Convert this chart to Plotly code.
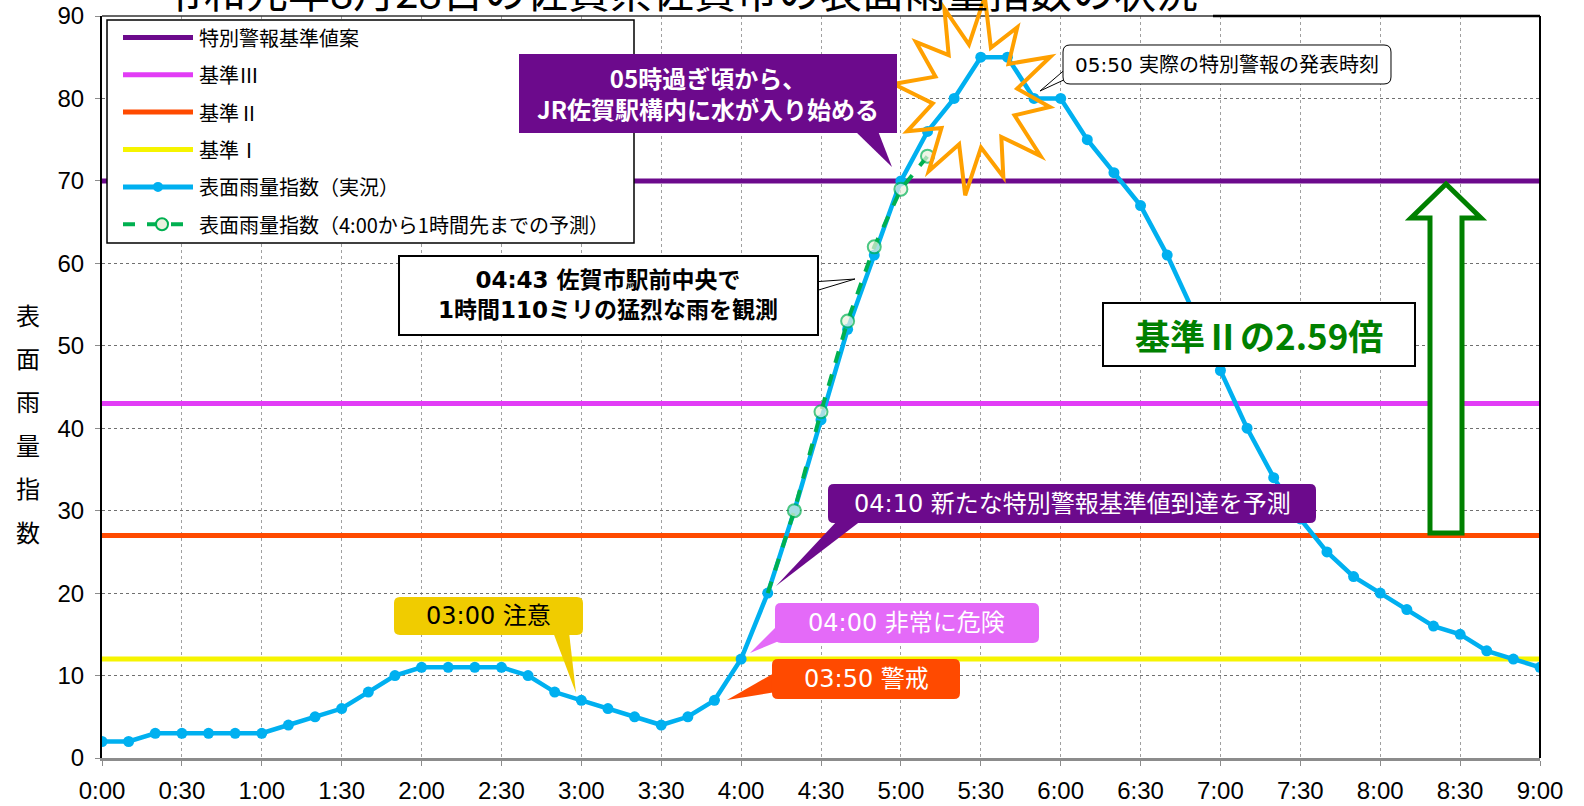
import math
import plotly.graph_objects as go

# ---- data -------------------------------------------------------------
times = ["0:00", "0:10", "0:20", "0:30", "0:40", "0:50",
         "1:00", "1:10", "1:20", "1:30", "1:40", "1:50",
         "2:00", "2:10", "2:20", "2:30", "2:40", "2:50",
         "3:00", "3:10", "3:20", "3:30", "3:40", "3:50",
         "4:00", "4:10", "4:20", "4:30", "4:40", "4:50",
         "5:00", "5:10", "5:20", "5:30", "5:40", "5:50",
         "6:00", "6:10", "6:20", "6:30", "6:40", "6:50",
         "7:00", "7:10", "7:20", "7:30", "7:40", "7:50",
         "8:00", "8:10", "8:20", "8:30", "8:40", "8:50",
         "9:00"]
actual_index = [2, 2, 3, 3, 3, 3,
                3, 4, 5, 6, 8, 10,
                11, 11, 11, 11, 10, 8,
                7, 6, 5, 4, 5, 7,
                12, 20, 30, 41, 52, 61,
                70, 76, 80, 85, 85, 80,
                80, 75, 71, 67, 61, 54,
                47, 40, 34, 29, 25, 22,
                20, 18, 16, 15, 13, 12,
                11]

forecast_times = ["4:10", "4:20", "4:30", "4:40", "4:50", "5:00", "5:10"]
forecast_index = [20, 30, 42, 53, 62, 69, 73]

level_names = ["特別警報基準値案", "基準Ⅲ", "基準Ⅱ", "基準Ⅰ"]
level_values = [70, 43, 27, 12]

legend_labels = ["特別警報基準値案", "基準Ⅲ", "基準Ⅱ", "基準Ⅰ",
                 "表面雨量指数（実況）",
                 "表面雨量指数（4:00から1時間先までの予測）"]

x_tick_labels = ["0:00", "0:30", "1:00", "1:30", "2:00", "2:30", "3:00",
                 "3:30", "4:00", "4:30", "5:00", "5:30", "6:00", "6:30",
                 "7:00", "7:30", "8:00", "8:30", "9:00"]
y_tick_values = [0, 10, 20, 30, 40, 50, 60, 70, 80, 90]

title_text = "令和元年8月28日の佐賀県佐賀市の表面雨量指数の状況"
y_title = "表面雨量指数"


def to_minutes(t):
    h, m = t.split(":")
    return int(h) * 60 + int(m)


x_actual = [to_minutes(t) for t in times]
x_forecast = [to_minutes(t) for t in forecast_times]
x_ticks = [to_minutes(t) for t in x_tick_labels]

# ---- styling -----------------------------------------------------------
W, H = 1584, 806
PL, PR, PT, PB = 102, 1540, 16, 758          # plot area in page pixels

PURPLE = "#6C0A8C"
MAGENTA = "#E23CF6"
ORANGE = "#FF4A00"
YELLOW = "#F6F400"
BLUE = "#00B0F0"
FGREEN = "#00B050"
DGREEN = "#008000"
level_colors = [PURPLE, MAGENTA, ORANGE, YELLOW]

JP = "Noto Sans CJK JP"
MIX = "DejaVu Sans, Noto Sans CJK JP"
NUM = "Liberation Sans, Arial, sans-serif"


def P(x, y):
    """page pixel -> paper coordinates"""
    return (x - PL) / (PR - PL), (PB - y) / (PB - PT)


def poly(points):
    parts = []
    for i, (x, y) in enumerate(points):
        px, py = P(x, y)
        parts.append(("M" if i == 0 else "L") + f"{px:.5f},{py:.5f}")
    return " ".join(parts) + " Z"


def rrect(x0, y0, x1, y1, r):
    def p(x, y):
        a, b = P(x, y)
        return f"{a:.5f},{b:.5f}"
    return (f"M{p(x0 + r, y0)} L{p(x1 - r, y0)} Q{p(x1, y0)} {p(x1, y0 + r)} "
            f"L{p(x1, y1 - r)} Q{p(x1, y1)} {p(x1 - r, y1)} "
            f"L{p(x0 + r, y1)} Q{p(x0, y1)} {p(x0, y1 - r)} "
            f"L{p(x0, y0 + r)} Q{p(x0, y0)} {p(x0 + r, y0)} Z")


fig = go.Figure()

# reference levels
for name, val, col in reversed(list(zip(level_names, level_values, level_colors))):
    fig.add_trace(go.Scatter(x=[0, 540], y=[val, val], mode="lines", name=name,
                             line=dict(color=col, width=5), showlegend=False,
                             hoverinfo="skip"))

# observed index
fig.add_trace(go.Scatter(x=x_actual, y=actual_index, mode="lines+markers",
                         name=legend_labels[4],
                         line=dict(color=BLUE, width=4.5),
                         marker=dict(color=BLUE, size=11),
                         showlegend=False))

# one-hour forecast issued at 4:00
fig.add_trace(go.Scatter(x=x_forecast, y=forecast_index, mode="lines+markers",
                         name=legend_labels[5],
                         line=dict(color=FGREEN, width=4, dash="dash"),
                         marker=dict(color="#EBF1DE",
                                     size=[0] + [13] * (len(forecast_index) - 1),
                                     line=dict(color=FGREEN,
                                               width=[0] + [2] * (len(forecast_index) - 1))),
                         showlegend=False))

shapes = []


def add_path(path, fill, line_color=None, line_width=0):
    shapes.append(dict(type="path", path=path, xref="paper", yref="paper",
                       fillcolor=fill, layer="above",
                       line=dict(color=line_color or fill, width=line_width)))


def add_line(x0, y0, x1, y1, color, width, dash="solid"):
    a, b = P(x0, y0)
    c, d = P(x1, y1)
    shapes.append(dict(type="line", x0=a, y0=b, x1=c, y1=d, xref="paper",
                       yref="paper", layer="above",
                       line=dict(color=color, width=width, dash=dash)))


def add_text(x, y, text, size, color, family=JP, bold=False, anchor="center"):
    a, b = P(x, y)
    fig.add_annotation(x=a, y=b, xref="paper", yref="paper", showarrow=False,
                       text=f"<b>{text}</b>" if bold else text,
                       xanchor=anchor, yanchor="middle",
                       font=dict(size=size, color=color, family=family))


# frame
add_line(PR, PT, PR, PB, "black", 2)
add_line(PL, PT, 1213, PT, "#333333", 1.5)
add_line(1213, PT, PR, PT, "black", 2.5)

# legend box
add_path(poly([(107, 20), (634, 20), (634, 243), (107, 243)]), "white", "black", 1.5)
rows = [37.4, 74.8, 112.1, 149.5, 186.9, 224.3]
for ry, col in zip(rows[:4], level_colors):
    add_line(123, ry, 193, ry, col, 5)
add_line(123, rows[4], 193, rows[4], BLUE, 5)
cx, cy = P(158, rows[4])
shapes.append(dict(type="circle", xref="paper", yref="paper", layer="above",
                   x0=cx - 5 / (PR - PL), x1=cx + 5 / (PR - PL),
                   y0=cy - 5 / (PB - PT), y1=cy + 5 / (PB - PT),
                   fillcolor=BLUE, line=dict(color=BLUE, width=0)))
add_line(123, rows[5], 193, rows[5], FGREEN, 4, "dash")
cx, cy = P(162, rows[5])
shapes.append(dict(type="circle", xref="paper", yref="paper", layer="above",
                   x0=cx - 6 / (PR - PL), x1=cx + 6 / (PR - PL),
                   y0=cy - 6 / (PB - PT), y1=cy + 6 / (PB - PT),
                   fillcolor="#EBF1DE", line=dict(color=FGREEN, width=2)))
for ry, lab in zip(rows, legend_labels):
    add_text(197, ry, lab, 20, "black", anchor="left")

# starburst around the peak
star = []
cx0, cy0, rx, ry_, n = 975, 96, 82, 100, 12
spike_scale = [1.0, 0.86, 1.0, 0.92, 1.0, 0.88, 1.0, 0.94, 0.9, 1.0, 0.9, 0.95]
for i in range(2 * n):
    ang = -math.pi / 2 + 0.12 + i * math.pi / n
    k = spike_scale[i // 2] if i % 2 == 0 else 0.52
    star.append((cx0 + rx * k * math.cos(ang), cy0 + ry_ * k * math.sin(ang)))
add_path(poly(star), "rgba(0,0,0,0)", "#FFA000", 4)

# green arrow (ratio to 基準Ⅱ)
add_path(poly([(1446, 184), (1481, 218), (1462, 218), (1462, 533),
               (1430, 533), (1430, 218), (1411, 218)]), "white", DGREEN, 5)

# callouts: tails first, then bodies
add_path(poly([(855, 131), (878, 131), (892, 167)]), PURPLE)
add_path(poly([(519, 54), (897, 54), (897, 133), (519, 133)]), PURPLE)
add_text(708, 93, "05時過ぎ頃から、<br>JR佐賀駅構内に水が入り始める", 24, "white", bold=True)

add_path(poly([(812, 282), (855, 279), (812, 292)]), "white", "black", 1)
add_path(poly([(399, 256), (818, 256), (818, 335), (399, 335)]), "white", "black", 2)
add_text(608, 295, "04:43 佐賀市駅前中央で<br>1時間110ミリの猛烈な雨を観測", 23, "black",
         family=MIX, bold=True)

add_path(poly([(1068, 67), (1040, 91), (1068, 78)]), "white", "black", 1)
add_path(rrect(1063, 45, 1391, 84, 7), "white", "black", 1)
add_text(1227, 65, "05:50 実際の特別警報の発表時刻", 20, "black", family=MIX)

add_path(poly([(1103, 303), (1415, 303), (1415, 366), (1103, 366)]), "white", "black", 2)
add_text(1259, 334, "基準Ⅱの2.59倍", 35, DGREEN, bold=True)

add_path(poly([(838, 520), (862, 520), (776, 586)]), PURPLE)
add_path(rrect(828, 484, 1316, 523, 6), PURPLE)
add_text(1072, 504, "04:10 新たな特別警報基準値到達を予測", 24, "white", family=MIX)

add_path(poly([(779, 624), (779, 641), (750, 653)]), "#E46AF8")
add_path(rrect(775, 603, 1039, 643, 6), "#E46AF8")
add_text(907, 623, "04:00 非常に危険", 24, "white", family=MIX)

add_path(poly([(776, 672), (776, 692), (727, 700)]), ORANGE)
add_path(rrect(772, 659, 960, 699, 6), ORANGE)
add_text(866, 679, "03:50 警戒", 24, "white", family=MIX)

add_path(poly([(553, 632), (569, 632), (576, 693)]), "#F0CC00")
add_path(rrect(394, 597, 583, 635, 6), "#F0CC00")
add_text(488, 616, "03:00 注意", 24, "black", family=MIX)

# title (runs off the top of the page) and vertical axis title
add_text(680, -11, title_text, 42, "black")
for i, ch in enumerate(y_title):
    add_text(28, 314 + i * 43.4, ch, 24, "black")

fig.update_layout(
    width=W, height=H, autosize=False,
    margin=dict(l=PL, r=W - PR, t=PT, b=H - PB, pad=0, autoexpand=False),
    paper_bgcolor="white", plot_bgcolor="white",
    showlegend=False, shapes=shapes,
    font=dict(family=JP, color="black"),
)
fig.update_xaxes(range=[0, 540], tickvals=x_ticks, ticktext=x_tick_labels,
                 showgrid=True, gridcolor="#A0A0A0", griddash="dot", gridwidth=1,
                 showline=True, linecolor="#8C8C8C", linewidth=3,
                 ticks="outside", ticklen=5, tickcolor="#8C8C8C",
                 ticklabelstandoff=4, automargin=False,
                 tickfont=dict(family=NUM, size=24, color="black"),
                 zeroline=False, fixedrange=True)
fig.update_yaxes(range=[0, 90], tickvals=y_tick_values,
                 showgrid=True, gridcolor="#707070", griddash="dot", gridwidth=1,
                 showline=True, linecolor="black", linewidth=2,
                 ticks="outside", ticklen=5, tickcolor="#8C8C8C",
                 ticklabelstandoff=6, automargin=False,
                 tickfont=dict(family=NUM, size=24, color="black"),
                 zeroline=False, fixedrange=True)

fig.write_html("out.html")
